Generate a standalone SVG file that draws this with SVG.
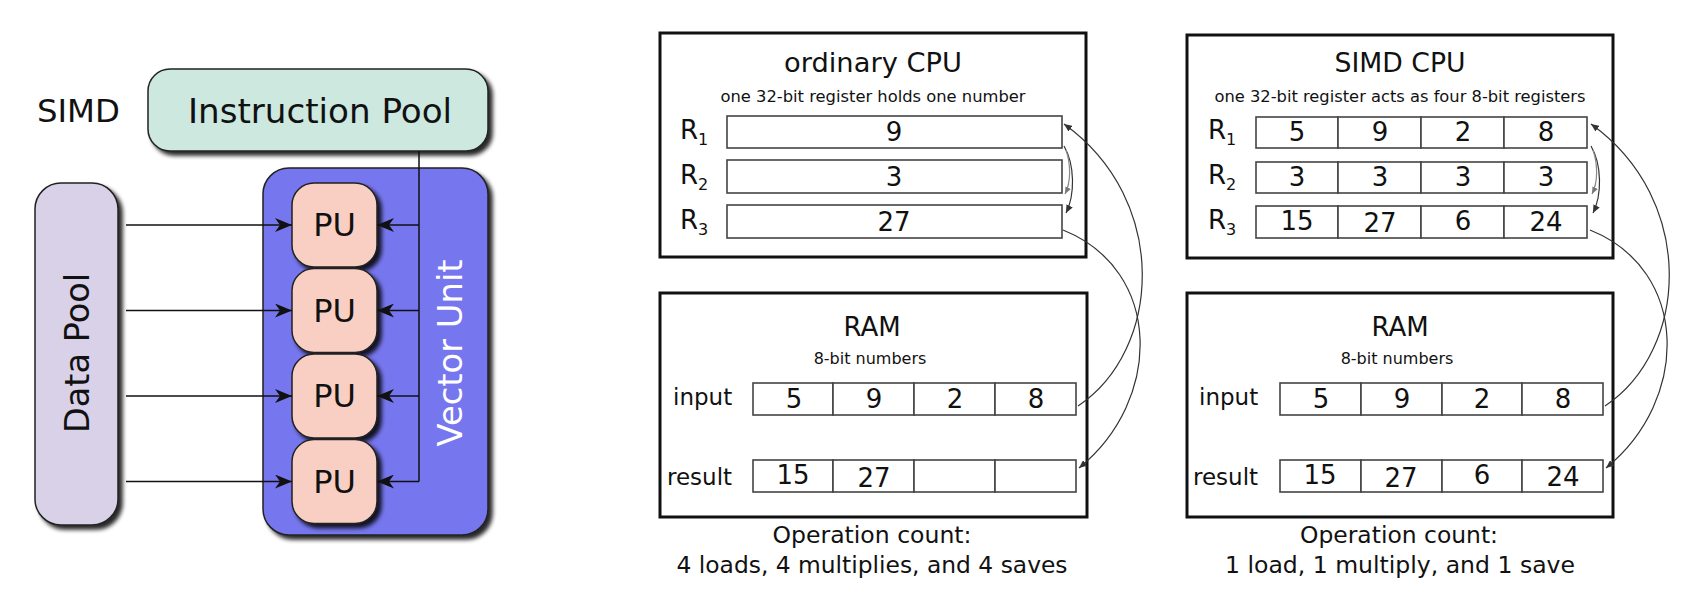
<svg xmlns="http://www.w3.org/2000/svg" width="1692" height="614" viewBox="0 0 1692 614">
<style>
.t{font-family:"DejaVu Sans","Liberation Sans",sans-serif;fill:#111}
.m{text-anchor:middle}
.box{fill:#fff;stroke:#111;stroke-width:3}
.cell{fill:#fff;stroke:#444;stroke-width:1.6}
.pu{fill:#f8cfc2;stroke:#222;stroke-width:1.5}
.wire{fill:none;stroke:#111;stroke-width:1.5}
.conn{fill:none;stroke:#333;stroke-width:1.2}
.lite{fill:none;stroke:#888;stroke-width:1.2}
.big{font-size:33px}
.ttl{font-size:26px}
.sub{font-size:16px}
.dig{font-size:26px}
.lbl{font-size:23px}
.reg{font-size:26px}
.rs{font-size:16px}
</style>
<defs>
<filter id="sh" x="-20%" y="-20%" width="150%" height="150%">
<feGaussianBlur in="SourceAlpha" stdDeviation="2"/>
<feOffset dx="4" dy="4"/>
<feComponentTransfer><feFuncA type="linear" slope="0.85"/></feComponentTransfer>
<feMerge><feMergeNode/><feMergeNode in="SourceGraphic"/></feMerge>
</filter>
<marker id="barb" markerUnits="userSpaceOnUse" markerWidth="18" markerHeight="14" refX="17" refY="7" orient="auto">
<path d="M0,0 L17,7 L0,14 L5,7 Z" fill="#111"/>
</marker>
<marker id="tip" markerUnits="userSpaceOnUse" markerWidth="9" markerHeight="7" refX="8" refY="3.5" orient="auto">
<path d="M0,0 L8,3.5 L0,7 Z" fill="#333"/>
</marker>
<marker id="tipl" markerUnits="userSpaceOnUse" markerWidth="8" markerHeight="6" refX="7" refY="3" orient="auto">
<path d="M0,0 L7,3 L0,6 Z" fill="#777"/>
</marker>
</defs>
<rect width="1692" height="614" fill="#fff"/>

<!-- Left SIMD diagram -->
<text id="simd-label" class="t" x="37" y="122" font-size="32" textLength="83" lengthAdjust="spacingAndGlyphs">SIMD</text>

<g id="instruction-pool">
<rect x="148" y="69" width="340" height="82" rx="22" fill="#cce8df" stroke="#222" stroke-width="1.5" filter="url(#sh)"/>
<text class="t big m" x="320" y="123" textLength="264" lengthAdjust="spacingAndGlyphs">Instruction Pool</text>
</g>

<g id="data-pool">
<rect x="35" y="183" width="83" height="342" rx="26" fill="#d9d1e8" stroke="#222" stroke-width="1.5" filter="url(#sh)"/>
<text class="t big m" x="89" y="353" transform="rotate(-90 89 353)" textLength="160" lengthAdjust="spacingAndGlyphs">Data Pool</text>
</g>

<g id="vector-unit">
<rect x="263" y="168" width="225" height="367" rx="26" fill="#7676ee" stroke="#222" stroke-width="1.5" filter="url(#sh)"/>
<text class="t big m" x="462" y="353" transform="rotate(-90 462 353)" style="fill:#fff" textLength="187" lengthAdjust="spacingAndGlyphs">Vector Unit</text>
</g>

<g id="pu1"><rect class="pu" x="292" y="183" width="85" height="84" rx="22" filter="url(#sh)"/><text class="t m" x="334.5" y="236" font-size="32">PU</text></g>
<g id="pu2"><rect class="pu" x="292" y="268.5" width="85" height="84" rx="22" filter="url(#sh)"/><text class="t m" x="334.5" y="321.5" font-size="32">PU</text></g>
<g id="pu3"><rect class="pu" x="292" y="354" width="85" height="84" rx="22" filter="url(#sh)"/><text class="t m" x="334.5" y="407" font-size="32">PU</text></g>
<g id="pu4"><rect class="pu" x="292" y="439.5" width="85" height="84" rx="22" filter="url(#sh)"/><text class="t m" x="334.5" y="492.5" font-size="32">PU</text></g>

<g id="left-connectors">
<path class="wire" d="M126,225 H292" marker-end="url(#barb)"/>
<path class="wire" d="M126,310.5 H292" marker-end="url(#barb)"/>
<path class="wire" d="M126,396 H292" marker-end="url(#barb)"/>
<path class="wire" d="M126,481.5 H292" marker-end="url(#barb)"/>
<path class="wire" d="M419,151 V481.5"/>
<path class="wire" d="M419,225 H377" marker-end="url(#barb)"/>
<path class="wire" d="M419,310.5 H377" marker-end="url(#barb)"/>
<path class="wire" d="M419,396 H377" marker-end="url(#barb)"/>
<path class="wire" d="M419,481.5 H377" marker-end="url(#barb)"/>
</g>

<!-- Ordinary CPU -->
<g id="ordinary-cpu">
<rect class="box" x="660" y="33" width="426" height="224"/>
<text class="t ttl m" x="873" y="72" textLength="178" lengthAdjust="spacingAndGlyphs">ordinary CPU</text>
<text class="t sub m" x="873" y="102" textLength="305" lengthAdjust="spacingAndGlyphs">one 32-bit register holds one number</text>
<text class="t reg" x="680" y="139">R<tspan class="rs" dy="6">1</tspan></text>
<text class="t reg" x="680" y="184">R<tspan class="rs" dy="6">2</tspan></text>
<text class="t reg" x="680" y="229">R<tspan class="rs" dy="6">3</tspan></text>
<rect class="cell" x="727" y="116" width="335" height="32"/>
<rect class="cell" x="727" y="160" width="335" height="33"/>
<rect class="cell" x="727" y="205" width="335" height="33"/>
<text class="t dig m" x="894" y="141">9</text>
<text class="t dig m" x="894" y="186">3</text>
<text class="t dig m" x="894" y="231">27</text>
</g>

<g id="ordinary-ram">
<rect class="box" x="660" y="293" width="427" height="224"/>
<text class="t ttl m" x="872" y="336">RAM</text>
<text class="t sub m" x="870" y="364">8-bit numbers</text>
<text class="t lbl" x="673" y="405">input</text>
<text class="t lbl" x="667" y="485">result</text>
<rect class="cell" x="753" y="383" width="80" height="32"/>
<rect class="cell" x="833" y="383" width="81" height="32"/>
<rect class="cell" x="914" y="383" width="81" height="32"/>
<rect class="cell" x="995" y="383" width="81" height="32"/>
<rect class="cell" x="753" y="460" width="80" height="32"/>
<rect class="cell" x="833" y="460" width="81" height="32"/>
<rect class="cell" x="914" y="460" width="81" height="32"/>
<rect class="cell" x="995" y="460" width="81" height="32"/>
<text class="t dig m" x="794" y="408">5</text>
<text class="t dig m" x="874" y="408">9</text>
<text class="t dig m" x="955" y="408">2</text>
<text class="t dig m" x="1036" y="408">8</text>
<text class="t dig m" x="793" y="484">15</text>
<text class="t dig m" x="874" y="487">27</text>
</g>

<g id="ordinary-count">
<text class="t m" x="872" y="543" font-size="23.5" textLength="199" lengthAdjust="spacingAndGlyphs">Operation count:</text>
<text class="t m" x="872" y="573" font-size="23.5" textLength="391" lengthAdjust="spacingAndGlyphs">4 loads, 4 multiplies, and 4 saves</text>
</g>

<!-- SIMD CPU -->
<g id="simd-cpu">
<rect class="box" x="1187" y="35" width="426" height="223"/>
<text class="t ttl m" x="1400" y="72" textLength="131" lengthAdjust="spacingAndGlyphs">SIMD CPU</text>
<text class="t sub m" x="1400" y="102" textLength="371" lengthAdjust="spacingAndGlyphs">one 32-bit register acts as four 8-bit registers</text>
<text class="t reg" x="1208" y="139">R<tspan class="rs" dy="6">1</tspan></text>
<text class="t reg" x="1208" y="184">R<tspan class="rs" dy="6">2</tspan></text>
<text class="t reg" x="1208" y="229">R<tspan class="rs" dy="6">3</tspan></text>
<rect class="cell" x="1256" y="117" width="82" height="31"/>
<rect class="cell" x="1338" y="117" width="83" height="31"/>
<rect class="cell" x="1421" y="117" width="83" height="31"/>
<rect class="cell" x="1504" y="117" width="83" height="31"/>
<rect class="cell" x="1256" y="162" width="82" height="31"/>
<rect class="cell" x="1338" y="162" width="83" height="31"/>
<rect class="cell" x="1421" y="162" width="83" height="31"/>
<rect class="cell" x="1504" y="162" width="83" height="31"/>
<rect class="cell" x="1256" y="206" width="82" height="32"/>
<rect class="cell" x="1338" y="206" width="83" height="32"/>
<rect class="cell" x="1421" y="206" width="83" height="32"/>
<rect class="cell" x="1504" y="206" width="83" height="32"/>
<text class="t dig m" x="1297" y="141">5</text>
<text class="t dig m" x="1380" y="141">9</text>
<text class="t dig m" x="1463" y="141">2</text>
<text class="t dig m" x="1546" y="141">8</text>
<text class="t dig m" x="1297" y="186">3</text>
<text class="t dig m" x="1380" y="186">3</text>
<text class="t dig m" x="1463" y="186">3</text>
<text class="t dig m" x="1546" y="186">3</text>
<text class="t dig m" x="1297" y="230">15</text>
<text class="t dig m" x="1380" y="232">27</text>
<text class="t dig m" x="1463" y="230">6</text>
<text class="t dig m" x="1546" y="231">24</text>
</g>

<g id="simd-ram">
<rect class="box" x="1187" y="293" width="426" height="224"/>
<text class="t ttl m" x="1400" y="336">RAM</text>
<text class="t sub m" x="1397" y="364">8-bit numbers</text>
<text class="t lbl" x="1199" y="405">input</text>
<text class="t lbl" x="1193" y="485">result</text>
<rect class="cell" x="1280" y="383" width="81" height="32"/>
<rect class="cell" x="1361" y="383" width="81" height="32"/>
<rect class="cell" x="1442" y="383" width="80" height="32"/>
<rect class="cell" x="1522" y="383" width="81" height="32"/>
<rect class="cell" x="1280" y="460" width="81" height="32"/>
<rect class="cell" x="1361" y="460" width="81" height="32"/>
<rect class="cell" x="1442" y="460" width="80" height="32"/>
<rect class="cell" x="1522" y="460" width="81" height="32"/>
<text class="t dig m" x="1321" y="408">5</text>
<text class="t dig m" x="1402" y="408">9</text>
<text class="t dig m" x="1482" y="408">2</text>
<text class="t dig m" x="1563" y="408">8</text>
<text class="t dig m" x="1320" y="484">15</text>
<text class="t dig m" x="1401" y="487">27</text>
<text class="t dig m" x="1482" y="484">6</text>
<text class="t dig m" x="1563" y="486">24</text>
</g>

<g id="simd-count">
<text class="t m" x="1399" y="543" font-size="23.5" textLength="198" lengthAdjust="spacingAndGlyphs">Operation count:</text>
<text class="t m" x="1400" y="573" font-size="23.5" textLength="350" lengthAdjust="spacingAndGlyphs">1 load, 1 multiply, and 1 save</text>
</g>

<g id="right-connectors">
<path class="conn" d="M1078,406 C1162,350 1170,200 1064,124" marker-end="url(#tip)"/>
<path class="conn" d="M1063,230 C1163,270 1163,400 1079,468" marker-end="url(#tip)"/>
<path class="conn" d="M1064,146 C1075,165 1075,195 1066,213" marker-end="url(#tip)"/>
<path class="lite" d="M1066,150 C1071,165 1071,182 1065,194" marker-end="url(#tipl)"/>
<path class="conn" d="M1605,406 C1689,350 1697,200 1591,124" marker-end="url(#tip)"/>
<path class="conn" d="M1590,230 C1690,270 1690,400 1606,468" marker-end="url(#tip)"/>
<path class="conn" d="M1591,146 C1602,165 1602,195 1593,213" marker-end="url(#tip)"/>
<path class="lite" d="M1593,150 C1598,165 1598,182 1592,194" marker-end="url(#tipl)"/>
</g>
</svg>
